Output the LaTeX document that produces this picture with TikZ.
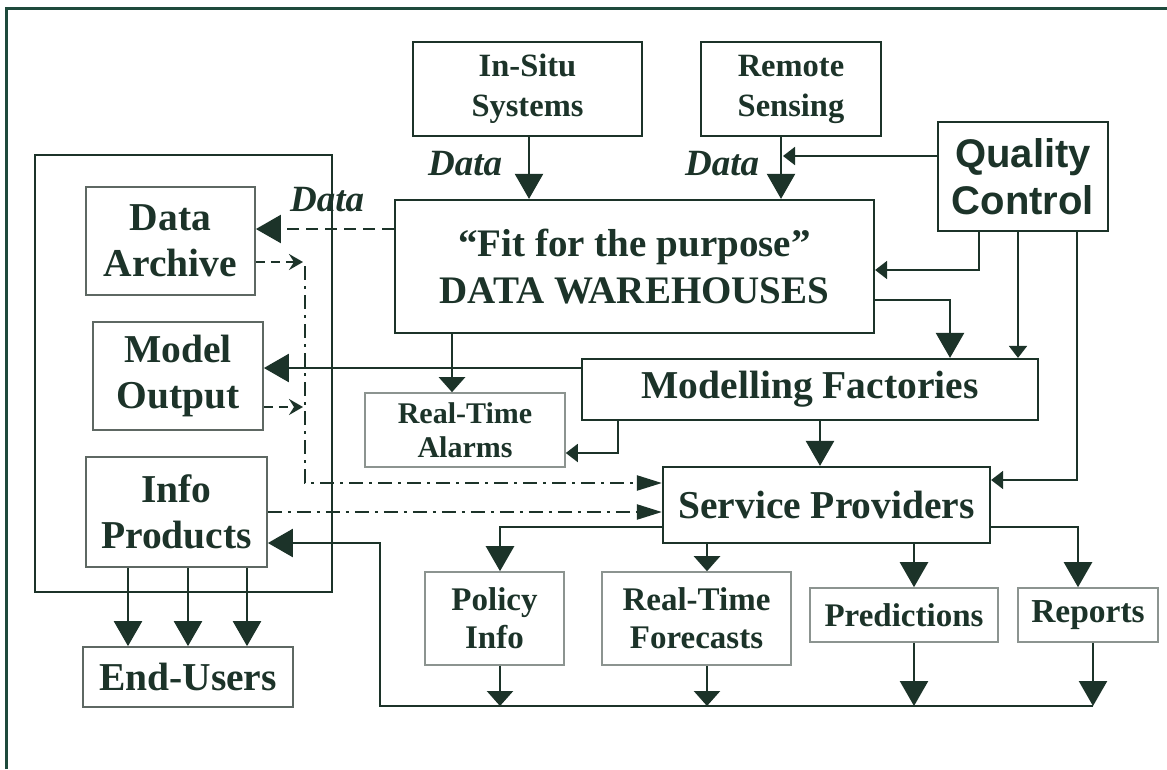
\documentclass[tikz,border=0pt]{standalone}
\usepackage{fontspec}
\setmainfont{Liberation Serif}
\newfontfamily\qcfont{Liberation Sans}
\usetikzlibrary{arrows.meta}
\definecolor{ink}{HTML}{1C3329}
\definecolor{framecol}{HTML}{1E4A3C}
\definecolor{midgray}{HTML}{5E6863}
\definecolor{litegray}{HTML}{8C9490}
\tikzset{
  box/.style={draw=ink, line width=2.2pt, inner sep=0pt, align=center, text=ink},
  gbox/.style={box, draw=midgray, line width=1.8pt},
  lbox/.style={box, draw=litegray, line width=1.6pt},
  conn/.style={draw=ink, line width=2.5pt},
  qcline/.style={draw=ink, line width=1.9pt},
  dashline/.style={draw=ink, line width=2.2pt, dash pattern=on 12pt off 7pt},
  shortdash/.style={draw=ink, line width=2.2pt, dash pattern=on 9pt off 6pt},
  dashdotline/.style={draw=ink, line width=2.2pt, dash pattern=on 14pt off 6pt on 3pt off 6pt},
  bigtip/.style={-{Triangle[width=28pt,length=25pt]}},
  medtip/.style={-{Triangle[width=26pt,length=15pt]}},
  smalltip/.style={-{Triangle[width=18pt,length=12pt]}},
  ddtip/.style={-{Triangle[width=15pt,length=25pt]}},
  chevtip/.style={-{Stealth[width=16pt,length=14pt,inset=5pt]}},
  datalbl/.style={text=ink, inner sep=0pt, font={\fontsize{37}{44}\selectfont\bfseries\itshape}},
}
\begin{document}
\begin{tikzpicture}[x=1pt,y=-1pt]
\useasboundingbox (0,0) rectangle (1167,769);
\fill[white] (0,0) rectangle (1167,769);
\draw[framecol, line width=3pt] (6,769) -- (6,8) -- (1167,8);

% loop around the left boxes
\draw[conn, line width=2.2pt] (35,155) rectangle (332,592);

% boxes
\node[box, minimum width=229pt, minimum height=94pt, font={\fontsize{32.5}{40}\selectfont\bfseries}] (insitu) at (527.5,89) {In-Situ\\Systems};
\node[box, minimum width=180pt, minimum height=94pt, font={\fontsize{32.5}{40}\selectfont\bfseries}] (remote) at (791,89) {Remote\\Sensing};
\node[box, minimum width=170pt, minimum height=109pt, font={\qcfont\fontsize{40}{47}\selectfont\bfseries}] (qc) at (1023,176.5) {Quality\\Control};
\node[box, minimum width=479pt, minimum height=133pt, font={\fontsize{39}{47}\selectfont\bfseries}] (dw) at (634.5,266.5) {``Fit for the purpose''\\DATA WAREHOUSES};
\node[gbox, minimum width=169pt, minimum height=108pt, font={\fontsize{39.5}{46}\selectfont\bfseries}] (archive) at (170.5,241) {Data\\Archive};
\node[gbox, minimum width=170pt, minimum height=108pt, font={\fontsize{39.5}{46}\selectfont\bfseries}] (model) at (178,376) {Model\\Output};
\node[gbox, minimum width=181pt, minimum height=110pt, font={\fontsize{39.5}{46}\selectfont\bfseries}] (info) at (176.5,512) {Info\\Products};
\node[gbox, minimum width=210pt, minimum height=60pt, font={\fontsize{39.5}{46}\selectfont\bfseries}] (endusers) at (188,677) {End-Users};
\node[box, minimum width=456pt, minimum height=61pt, font={\fontsize{39.5}{46}\selectfont\bfseries}] (mf) at (810,389.5) {Modelling Factories};
\node[lbox, minimum width=200pt, minimum height=74pt, font={\fontsize{30}{34}\selectfont\bfseries}] (alarms) at (465,430) {Real-Time\\Alarms};
\node[box, minimum width=327pt, minimum height=76pt, font={\fontsize{39.5}{46}\selectfont\bfseries}] (sp) at (826.5,505) {Service Providers};
\node[lbox, minimum width=139pt, minimum height=93pt, font={\fontsize{33}{38}\selectfont\bfseries}] (policy) at (494.5,618.5) {Policy\\Info};
\node[lbox, minimum width=189pt, minimum height=93pt, font={\fontsize{33}{38}\selectfont\bfseries}] (forecasts) at (696.5,618.5) {Real-Time\\Forecasts};
\node[lbox, minimum width=188pt, minimum height=54pt, font={\fontsize{33}{38}\selectfont\bfseries}] (predictions) at (904,615) {Predictions};
\node[lbox, minimum width=140pt, minimum height=54pt, font={\fontsize{33.5}{38}\selectfont\bfseries}] (reports) at (1088,615) {Reports};

% Data labels
\node[datalbl, anchor=base west] (data1) at (428,175) {Data};
\node[datalbl, anchor=base west] (data2) at (685,175) {Data};
\node[datalbl, anchor=base west] (data3) at (290,211) {Data};

% named free ends
\coordinate (rsjoin) at (783,156);
\coordinate (da1) at (303,262);
\coordinate (mo1) at (303,407);
\coordinate (dd1) at (305,266);
\coordinate (b1) at (500,706);
\coordinate (b2) at (707,706);
\coordinate (b3) at (914,706);
\coordinate (busR) at (1093,706);
\coordinate (busL) at (380,706);

% connectors
\draw[conn, line width=2.2pt, bigtip] (insitu.south -| 529,0) -- (dw.north -| 529,0);
\draw[conn, line width=2.2pt, bigtip] (remote.south -| 781,0) -- (dw.north -| 781,0);
\draw[qcline, smalltip] (qc.west |- rsjoin) -- (rsjoin);

\draw[dashline, bigtip] (dw.west |- 0,229) -- (archive.east |- 0,229);
\draw[shortdash, chevtip] (archive.east |- da1) -- (da1);
\draw[shortdash, chevtip] (model.east |- mo1) -- (mo1);
\draw[dashdotline, ddtip] (dd1) |- (sp.west |- 0,483);
\draw[dashdotline, ddtip] (info.east |- 0,512) -- (sp.west |- 0,512);

\draw[conn, bigtip] (mf.west |- 0,368) -- (model.east |- 0,368);
\draw[conn, medtip] (dw.south -| 452,0) -- (alarms.north -| 452,0);
\draw[qcline, smalltip] (mf.south -| 618,0) |- (alarms.east |- 0,453);
\draw[qcline, smalltip] (qc.south -| 979,0) |- (dw.east |- 0,270);
\draw[conn, bigtip] (dw.east |- 0,300) -| (mf.north -| 950,0);
\draw[qcline, smalltip] (qc.south -| 1018,0) -- (mf.north -| 1018,0);
\draw[qcline, smalltip] (qc.south -| 1077,0) |- (sp.east |- 0,480);
\draw[conn, bigtip] (mf.south -| 820,0) -- (sp.north -| 820,0);

\draw[conn, bigtip] (sp.west |- 0,527) -| (policy.north -| 500,0);
\draw[conn, medtip] (sp.south -| 707,0) -- (forecasts.north -| 707,0);
\draw[conn, bigtip] (sp.south -| 914,0) -- (predictions.north -| 914,0);
\draw[conn, bigtip] (sp.east |- 0,527) -| (reports.north -| 1078,0);

\draw[conn, medtip] (policy.south -| b1) -- (b1);
\draw[conn, medtip] (forecasts.south -| b2) -- (b2);
\draw[conn, bigtip] (predictions.south -| b3) -- (b3);
\draw[conn, bigtip] (reports.south -| busR) -- (busR);
\draw[conn, bigtip] (busR) -- (busL) |- (info.east |- 0,543);

\draw[conn, bigtip] (info.south -| 128,0) -- (endusers.north -| 128,0);
\draw[conn, bigtip] (info.south -| 188,0) -- (endusers.north -| 188,0);
\draw[conn, bigtip] (info.south -| 247,0) -- (endusers.north -| 247,0);
\end{tikzpicture}
\end{document}
